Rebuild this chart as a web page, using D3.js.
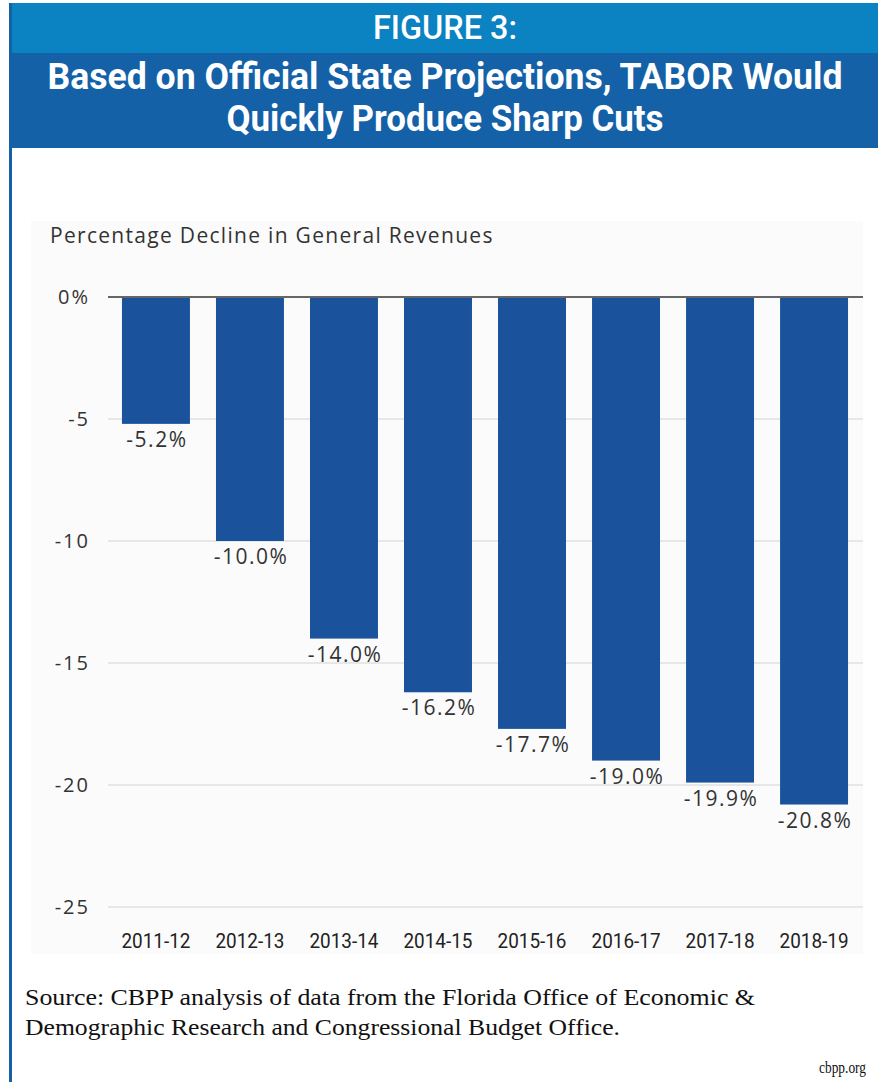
<!DOCTYPE html>
<html>
<head>
<meta charset="utf-8">
<script src="https://cdn.jsdelivr.net/npm/d3@7"></script>
<style>
  body { margin: 0; background: #fff; }
  svg { display: block; }
</style>
</head>
<body>
<script>
// chart data
const years = ['2011-12', '2012-13', '2013-14', '2014-15', '2015-16', '2016-17', '2017-18', '2018-19']
const declines = [-5.2, -10.0, -14.0, -16.2, -17.7, -19.0, -19.9, -20.8]
const yTicks = [0, -5, -10, -15, -20, -25]

const width = 878
const height = 1082

const svg = d3.select('body').append('svg')
    .attr('width', width)
    .attr('height', height)

// header bands
svg.append('rect').attr('x', 9).attr('y', 3).attr('width', width - 9).attr('height', 51).attr('fill', '#0b82c1')
svg.append('rect').attr('x', 9).attr('y', 53).attr('width', width - 9).attr('height', 95).attr('fill', '#1461a8')
svg.append('rect').attr('x', 9).attr('y', 3).attr('width', 3).attr('height', height - 3).attr('fill', '#1461a8')

const titleFont = 'Roboto, "Liberation Sans", sans-serif'
svg.append('text')
    .attr('x', 445).attr('y', 39)
    .attr('text-anchor', 'middle')
    .attr('fill', '#fff')
    .attr('textLength', 144)
    .attr('lengthAdjust', 'spacingAndGlyphs')
    .style('font-family', titleFont)
    .style('font-weight', 500)
    .style('font-size', '34px')
    .text('FIGURE 3:')

const titleLines = ['Based on Official State Projections, TABOR Would', 'Quickly Produce Sharp Cuts']
const titleWidths = [795, 437]
svg.selectAll('.title')
  .data(titleLines)
  .enter().append('text')
    .attr('class', 'title')
    .attr('x', 445)
    .attr('y', (d, i) => 89 + i * 42)
    .attr('text-anchor', 'middle')
    .attr('fill', '#fff')
    .attr('textLength', (d, i) => titleWidths[i])
    .attr('lengthAdjust', 'spacingAndGlyphs')
    .style('font-family', titleFont)
    .style('font-weight', 'bold')
    .style('font-size', '37px')
    .text((d) => d)

// chart panel
svg.append('rect').attr('x', 31).attr('y', 221).attr('width', 832).attr('height', 733).attr('fill', '#fbfbfb')

const labelFont = '"Open Sans", "Noto Sans", sans-serif'
svg.append('text')
    .attr('x', 50).attr('y', 243)
    .attr('fill', '#333')
    .style('font-family', labelFont)
    .style('font-size', '21px')
    .style('letter-spacing', '1.3px')
    .text('Percentage Decline in General Revenues')

const x = d3.scaleBand()
    .domain(years)
    .range([108, 862])
    .paddingInner(0.277)
    .paddingOuter(0.1485)

const y = d3.scaleLinear()
    .domain([0, -25])
    .range([297, 907])

// gridlines
svg.append('g')
  .selectAll('line')
  .data(yTicks.filter((d) => d !== 0))
  .enter().append('line')
    .attr('x1', 108).attr('x2', 863)
    .attr('y1', (d) => y(d)).attr('y2', (d) => y(d))
    .attr('stroke', '#d4d4d4')
    .attr('stroke-width', 1.2)

// y labels
svg.append('g')
  .selectAll('text')
  .data(yTicks)
  .enter().append('text')
    .attr('x', 90)
    .attr('y', (d) => y(d) + 7)
    .attr('text-anchor', 'end')
    .attr('fill', '#333')
    .style('font-family', labelFont)
    .style('font-size', '20px')
    .style('letter-spacing', '2px')
    .text((d) => d === 0 ? '0%' : d)

// bars
svg.append('g')
  .selectAll('rect')
  .data(years)
  .enter().append('rect')
    .attr('x', (d) => x(d))
    .attr('y', y(0))
    .attr('width', x.bandwidth())
    .attr('height', (d, i) => y(declines[i]) - y(0))
    .attr('fill', '#1a539c')

// zero line
svg.append('line')
    .attr('x1', 108).attr('x2', 863)
    .attr('y1', y(0)).attr('y2', y(0))
    .attr('stroke', '#666')
    .attr('stroke-width', 2)

// value labels
svg.append('g')
  .selectAll('text')
  .data(years)
  .enter().append('text')
    .attr('x', (d) => x(d) + x.bandwidth() / 2 + 1)
    .attr('y', (d, i) => y(declines[i]) + 23)
    .attr('text-anchor', 'middle')
    .attr('fill', '#333')
    .style('font-family', labelFont)
    .style('font-size', '21px')
    .style('letter-spacing', '1.5px')
    .text((d, i) => declines[i].toFixed(1) + '%')

// x labels
svg.append('g')
  .selectAll('text')
  .data(years)
  .enter().append('text')
    .attr('x', (d) => x(d) + x.bandwidth() / 2)
    .attr('y', 948)
    .attr('text-anchor', 'middle')
    .attr('fill', '#222')
    .attr('textLength', 69)
    .attr('lengthAdjust', 'spacingAndGlyphs')
    .style('font-family', 'Roboto, sans-serif')
    .style('font-size', '21px')
    .text((d) => d)

// source
const serif = '"Liberation Serif", "DejaVu Serif", serif'
const sourceLines = ['Source: CBPP analysis of data from the Florida Office of Economic &',
                     'Demographic Research and Congressional Budget Office.']
const sourceWidths = [730, 595]
svg.selectAll('.source')
  .data(sourceLines)
  .enter().append('text')
    .attr('class', 'source')
    .attr('x', 25)
    .attr('y', (d, i) => 1005 + i * 30)
    .attr('fill', '#111')
    .attr('textLength', (d, i) => sourceWidths[i])
    .attr('lengthAdjust', 'spacingAndGlyphs')
    .style('font-family', serif)
    .style('font-size', '24px')
    .text((d) => d)

svg.append('text')
    .attr('x', 866).attr('y', 1073)
    .attr('text-anchor', 'end')
    .attr('fill', '#111')
    .attr('textLength', 47)
    .attr('lengthAdjust', 'spacingAndGlyphs')
    .style('font-family', serif)
    .style('font-size', '17px')
    .text('cbpp.org')
</script>
</body>
</html>
